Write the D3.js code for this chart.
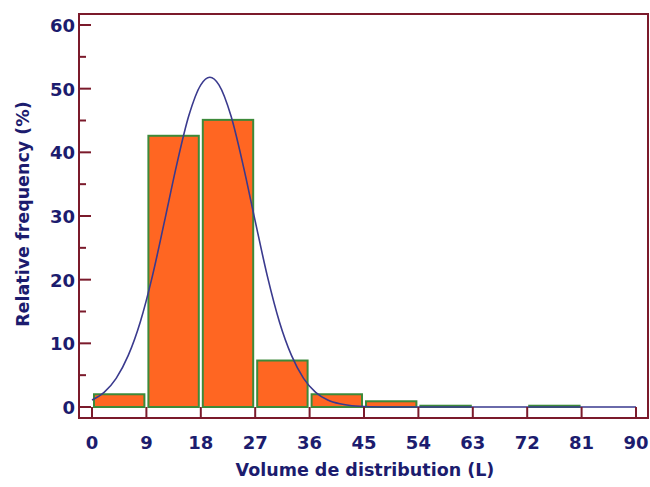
<!DOCTYPE html>
<html>
<head>
<meta charset="utf-8">
<script src="https://cdn.jsdelivr.net/npm/d3@7"></script>
<style>
body { margin: 0; background: #fff; }
text { font-family: "DejaVu Sans", Verdana, sans-serif; font-weight: bold; fill: #1c1c6e; }
</style>
</head>
<body>
<div id="myDiv"></div>
<script>
// bins (L) and relative frequency (%)
var binStarts = [0, 9, 18, 27, 36, 45, 54, 63, 72, 81]
var binWidth = 9
var freqs = [2.0, 42.6, 45.1, 7.3, 2.0, 0.9, 0.2, 0.0, 0.2, 0.0]

// fitted curve
var curveX = [0, 2, 4, 6, 8, 10, 12, 14, 16, 18, 19.5, 21, 23, 25, 27, 29, 31, 33, 35, 37, 39, 41, 43, 46, 50, 60, 70, 80, 90]
var curveY = [1.1, 2.3, 4.5, 8.1, 13.4, 20.6, 29.2, 38.0, 45.7, 50.6, 51.8, 50.6, 45.7, 38.0, 29.2, 20.6, 13.4, 8.1, 4.5, 2.3, 1.1, 0.5, 0.2, 0.05, 0, 0, 0, 0, 0]

var xTicks = [0, 9, 18, 27, 36, 45, 54, 63, 72, 81, 90]
var yTicks = [0, 10, 20, 30, 40, 50, 60]
var yMinor = [5, 15, 25, 35, 45, 55]

var frameColor = "#7b1a2b"

var svg = d3.select("#myDiv").append("svg")
    .attr("width", 650)
    .attr("height", 487);

var x = d3.scaleLinear().domain([0, 90]).range([92, 636]);
var y = d3.scaleLinear().domain([0, 60]).range([407, 25]);

// frame
svg.append("rect")
    .attr("x", 79).attr("y", 14)
    .attr("width", 569).attr("height", 404)
    .attr("fill", "none")
    .attr("stroke", frameColor)
    .attr("stroke-width", 2);

// bars
svg.selectAll("rect.bar")
    .data(freqs)
    .enter()
    .append("rect")
    .attr("class", "bar")
    .attr("x", function(d, i){ return x(binStarts[i]) + 2; })
    .attr("y", function(d){ return y(d); })
    .attr("width", function(d, i){ return x(binStarts[i] + binWidth) - x(binStarts[i]) - 4; })
    .attr("height", function(d){ return y(0) - y(d); })
    .attr("fill", "#ff6622")
    .attr("stroke", "#3d8a3a")
    .attr("stroke-width", 2);

// curve
var line = d3.line()
    .x(function(d){ return x(d[0]); })
    .y(function(d){ return y(d[1]); })
    .curve(d3.curveMonotoneX);

svg.append("path")
    .datum(curveX.map(function(v, i){ return [v, curveY[i]]; }))
    .attr("d", line)
    .attr("fill", "none")
    .attr("stroke", "#3a3a8e")
    .attr("stroke-width", 1.6);

// x axis ticks (pointing up from frame bottom)
svg.selectAll("line.xt")
    .data(xTicks)
    .enter()
    .append("line")
    .attr("x1", function(d){ return x(d); })
    .attr("x2", function(d){ return x(d); })
    .attr("y1", 418)
    .attr("y2", 407)
    .attr("stroke", frameColor)
    .attr("stroke-width", 2);

svg.selectAll("text.xl")
    .data(xTicks)
    .enter()
    .append("text")
    .attr("x", function(d){ return x(d); })
    .attr("y", 449)
    .attr("text-anchor", "middle")
    .attr("font-size", 18)
    .text(function(d){ return d; });

// y axis ticks
svg.selectAll("line.yt")
    .data(yTicks)
    .enter()
    .append("line")
    .attr("x1", 79)
    .attr("x2", 91)
    .attr("y1", function(d){ return y(d); })
    .attr("y2", function(d){ return y(d); })
    .attr("stroke", frameColor)
    .attr("stroke-width", 2);

svg.selectAll("line.ym")
    .data(yMinor)
    .enter()
    .append("line")
    .attr("x1", 79)
    .attr("x2", 86)
    .attr("y1", function(d){ return y(d); })
    .attr("y2", function(d){ return y(d); })
    .attr("stroke", frameColor)
    .attr("stroke-width", 2);

svg.selectAll("text.yl")
    .data(yTicks)
    .enter()
    .append("text")
    .attr("x", 75)
    .attr("y", function(d){ return y(d) + 7; })
    .attr("text-anchor", "end")
    .attr("font-size", 18)
    .text(function(d){ return d; });

// axis titles
svg.append("text")
    .attr("x", 365)
    .attr("y", 476)
    .attr("text-anchor", "middle")
    .attr("font-size", 17.5)
    .text("Volume de distribution (L)");

svg.append("text")
    .attr("transform", "translate(29,214) rotate(-90)")
    .attr("text-anchor", "middle")
    .attr("font-size", 17.5)
    .text("Relative frequency (%)");
</script>
</body>
</html>
